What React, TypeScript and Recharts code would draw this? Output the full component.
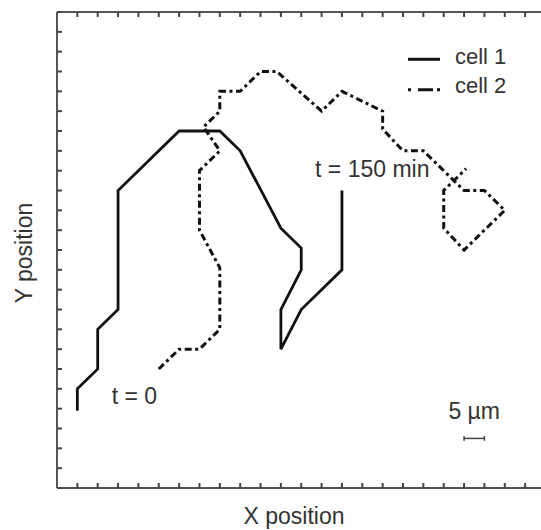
import React from "react";
import {
  ComposedChart,
  Line,
  XAxis,
  YAxis,
  ReferenceLine,
  ReferenceDot,
  Legend,
} from "recharts";

// tick positions (grid units)
const X_TICKS = [0, 1, 2, 3, 4, 5, 6, 7, 8, 9, 10, 11, 12, 13, 14, 15, 16, 17, 18, 19, 20, 21, 22, 23];
const Y_TICKS = [0, 1, 2, 3, 4, 5, 6, 7, 8, 9, 10, 11, 12, 13, 14, 15, 16, 17, 18, 19, 20, 21, 22, 23, 24];

// cell 1 trajectory, t = 0 ... 150 min
const CELL1_X = [1, 1, 2, 2, 3, 3, 6, 8, 9, 11, 12, 12, 11, 11, 12, 14, 14];
const CELL1_Y = [3.9, 5, 6, 8, 9, 15, 18, 18, 17, 13.1, 12.1, 11, 9, 7, 9, 11, 15];

// cell 2 trajectory
const CELL2_X = [5, 6, 7, 8, 8, 7, 7, 8, 7.2, 8, 8, 9, 10, 10.8, 13, 14, 16, 16, 17, 18, 20, 21, 22, 20, 19, 19, 20.1];
const CELL2_Y = [6, 7, 7, 8, 11.1, 13, 16, 17, 18.2, 19, 20, 20, 21, 21, 19, 20, 19, 18.1, 17, 17, 15, 15, 14, 12, 13.1, 15, 16.1];

// 5 µm scale bar
const SCALE_X = [20, 21];
const SCALE_Y = 2.5;

const ANNOTATIONS = [
  { text: "t = 0", x: 2.69, y: 4.65 },
  { text: "t = 150 min", x: 12.68, y: 16.1 },
  { text: "5 µm", x: 19.23, y: 3.88 },
];

const cell1 = CELL1_X.map((x, i) => ({ x, y: CELL1_Y[i] }));
const cell2 = CELL2_X.map((x, i) => ({ x, y: CELL2_Y[i] }));

const TEXT = "#333";
const AXIS = "#555";
const TICK = "#444";
const FONT = "'Liberation Sans', Arial, sans-serif";
const DASH_DOT = "7 3.5 3 3.5";

const renderLegend = () => (
  <svg width={140} height={64} style={{ display: "block" }}>
    <line x1={8} x2={40} y1={19.3} y2={19.3} stroke="#111" strokeWidth={3} />
    <text x={55} y={24.3} fontSize={22} fill={TEXT} fontFamily={FONT}>
      cell 1
    </text>
    <line
      x1={8}
      x2={40}
      y1={49.7}
      y2={49.7}
      stroke="#111"
      strokeWidth={3}
      strokeDasharray="3 7 15 4 3"
    />
    <text x={55} y={53.3} fontSize={22} fill={TEXT} fontFamily={FONT}>
      cell 2
    </text>
  </svg>
);

const XLabel = ({ viewBox }: any) => (
  <text
    x={viewBox.x + viewBox.width / 2 - 5}
    y={viewBox.y + 36.3}
    textAnchor="middle"
    fontSize={23}
    fill={TEXT}
    fontFamily={FONT}
  >
    X position
  </text>
);

const YLabel = ({ viewBox }: any) => {
  const cx = viewBox.x + 31.7;
  const cy = viewBox.y + viewBox.height / 2 + 3;
  return (
    <text
      x={cx}
      y={cy}
      transform={`rotate(-90 ${cx} ${cy})`}
      textAnchor="middle"
      fontSize={23}
      fill={TEXT}
      fontFamily={FONT}
    >
      Y position
    </text>
  );
};

const AnnotationLabel = ({ viewBox, value }: any) => (
  <text x={viewBox.x} y={viewBox.y + 8} fontSize={23} fill={TEXT} fontFamily={FONT}>
    {value}
  </text>
);

// only the tick marks are wanted, no tick labels
const noTick = () => <g />;

const axisLine = { stroke: AXIS, strokeWidth: 2 };
const tickLine = { stroke: TICK, strokeWidth: 2 };

export default function App() {
  return (
    <div
      style={{
        position: "absolute",
        left: 0,
        top: 0,
        width: 541,
        height: 530,
        fontFamily: FONT,
        background: "#fff",
      }}
    >
      <ComposedChart
        width={541}
        height={530}
        margin={{ top: 0, right: 0, bottom: 0, left: 0 }}
      >
        <XAxis
          dataKey="x"
          type="number"
          domain={[0, 23.78]}
          allowDataOverflow
          ticks={X_TICKS}
          interval={0}
          tick={noTick}
          tickSize={-5}
          height={42}
          axisLine={axisLine}
          tickLine={tickLine}
          label={{ content: (p: any) => <XLabel {...p} /> }}
        />
        <XAxis
          xAxisId="top"
          orientation="top"
          dataKey="x"
          type="number"
          domain={[0, 23.78]}
          allowDataOverflow
          ticks={X_TICKS}
          interval={0}
          tick={noTick}
          tickSize={-5}
          height={12}
          axisLine={axisLine}
          tickLine={tickLine}
        />
        <YAxis
          type="number"
          domain={[0, 24]}
          allowDataOverflow
          ticks={Y_TICKS}
          interval={0}
          tick={noTick}
          tickSize={-5}
          width={57}
          axisLine={axisLine}
          tickLine={tickLine}
          label={{ content: (p: any) => <YLabel {...p} /> }}
        />
        <Line
          data={cell1}
          dataKey="y"
          name="cell 1"
          type="linear"
          stroke="#111"
          strokeWidth={2.8}
          dot={false}
          activeDot={false}
          isAnimationActive={false}
        />
        <Line
          data={cell2}
          dataKey="y"
          name="cell 2"
          type="linear"
          stroke="#111"
          strokeWidth={3}
          strokeDasharray={DASH_DOT}
          dot={false}
          activeDot={false}
          isAnimationActive={false}
        />
        <ReferenceLine
          segment={[
            { x: SCALE_X[0], y: SCALE_Y },
            { x: SCALE_X[1], y: SCALE_Y },
          ]}
          stroke="#444"
          strokeWidth={1.5}
          ifOverflow="visible"
        />
        {SCALE_X.map((x) => (
          <ReferenceLine
            key={x}
            segment={[
              { x, y: SCALE_Y - 0.12 },
              { x, y: SCALE_Y + 0.12 },
            ]}
            stroke="#444"
            strokeWidth={1.5}
            ifOverflow="visible"
          />
        ))}
        {ANNOTATIONS.map((a) => (
          <ReferenceDot
            key={a.text}
            x={a.x}
            y={a.y}
            r={0}
            fill="none"
            stroke="none"
            ifOverflow="visible"
            label={{
              value: a.text,
              content: (p: any) => <AnnotationLabel {...p} value={a.text} />,
            }}
          />
        ))}
        <Legend
          layout="horizontal"
          verticalAlign="middle"
          align="center"
          content={renderLegend}
          wrapperStyle={{ position: "absolute", left: 400, top: 40, width: 140, height: 64 }}
        />
      </ComposedChart>
    </div>
  );
}
